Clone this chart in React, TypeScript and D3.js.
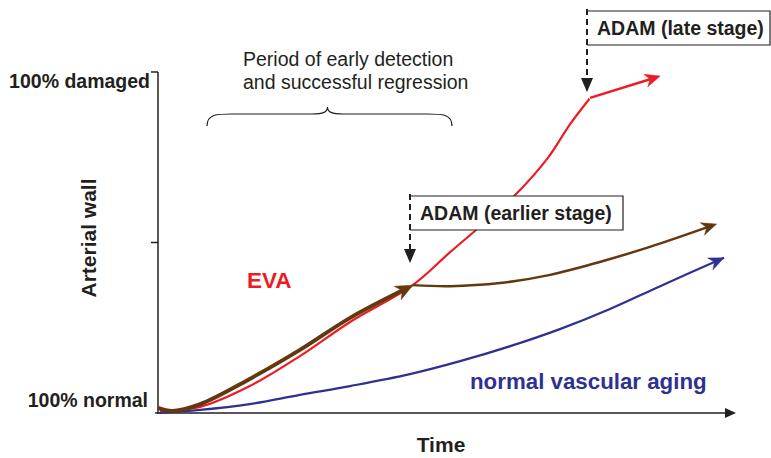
import React from "react";
import * as d3 from "d3";

const W = 771;
const H = 458;

// data units: time 0..100, arterial wall damage 0..100
const redEarly: [number, number][] = [
  [0.35, 0.6], [7.4, 1.8], [16.1, 7.9], [24.9, 16.7], [33.7, 26.7], [44.7, 37.5],
  [51.2, 47.1], [56.5, 54.7], [63.0, 64.5], [68.4, 74.8], [72.3, 84.7], [75.8, 92.4],
];
const redLate: [number, number][] = [[75.8, 92.4], [88.1, 98.8]];
const brownEarly: [number, number][] = [
  [0, 1.5], [2.5, 0.6], [7.4, 2.6], [16.1, 10.0], [24.9, 18.5], [33.7, 27.9], [44.7, 37.5],
];
const brownLate: [number, number][] = [
  [44.7, 37.5], [51.2, 37.2], [60, 38.1], [68.8, 40.5], [77.5, 44.3], [86.3, 48.7], [98.0, 55.4],
];
const blueNormal: [number, number][] = [
  [0, 0], [7.4, 0.9], [16.1, 2.6], [24.9, 5.3], [33.7, 7.9], [44.2, 11.4], [53, 15.2],
  [61.8, 19.6], [70.5, 24.6], [79.3, 30.5], [88.1, 37.2], [99.3, 45.5],
];
const yTickValues = [0, 50, 100];
const yTickLabels = ["100% normal", "", "100% damaged"];

const RED = "#ed1c24";
const BROWN = "#63380f";
const BLUE = "#2e3192";
const INK = "#231f20";
const FONT = "'Liberation Sans', Arial, Helvetica, sans-serif";

const x = d3.scaleLinear().domain([0, 100]).range([158, 728]);
const y = d3.scaleLinear().domain([0, 100]).range([413, 72]);

const line = d3
  .line<[number, number]>()
  .x((d) => x(d[0]))
  .y((d) => y(d[1]))
  .curve(d3.curveCatmullRom.alpha(0.5));

function arrowHead(pts: [number, number][], len: number, half: number, color: string) {
  const n = pts.length;
  const [x1, y1] = [x(pts[n - 2][0]), y(pts[n - 2][1])];
  const [x2, y2] = [x(pts[n - 1][0]), y(pts[n - 1][1])];
  const a = Math.atan2(y2 - y1, x2 - x1);
  const bx = x2 - len * Math.cos(a);
  const by = y2 - len * Math.sin(a);
  const nx = -Math.sin(a) * half;
  const ny = Math.cos(a) * half;
  const ix = x2 - len * 0.7 * Math.cos(a);
  const iy = y2 - len * 0.7 * Math.sin(a);
  const d = `M${x2},${y2}L${bx + nx},${by + ny}L${ix},${iy}L${bx - nx},${by - ny}Z`;
  return <path d={d} fill={color} stroke={color} strokeWidth={0.5} />;
}

function trimmed(pts: [number, number][], px: number): [number, number][] {
  const n = pts.length;
  const [x1, y1] = [x(pts[n - 2][0]), y(pts[n - 2][1])];
  const [x2, y2] = [x(pts[n - 1][0]), y(pts[n - 1][1])];
  const L = Math.hypot(x2 - x1, y2 - y1);
  const t = (L - px) / L;
  const nx = x.invert(x1 + (x2 - x1) * t);
  const ny = y.invert(y1 + (y2 - y1) * t);
  return [...pts.slice(0, n - 1), [nx, ny]];
}

function Brace({ x0, x1, yb, yt }: { x0: number; x1: number; yb: number; yt: number }) {
  const m = (x0 + x1) / 2 - 2;
  const ym = yb - 12;
  const d = `M${x0},${yb} C${x0},${ym} ${x0 + 10},${ym} ${x0 + 25},${ym} L${m - 16},${ym} C${m - 4},${ym} ${m},${ym - 2} ${m},${yt} C${m},${ym - 2} ${m + 4},${ym} ${m + 16},${ym} L${x1 - 25},${ym} C${x1 - 10},${ym} ${x1},${ym} ${x1},${yb}`;
  return <path d={d} fill="none" stroke={INK} strokeWidth={1.2} />;
}

function AdamBox({ left, top, right, bottom, label, tipY }: { left: number; top: number; right: number; bottom: number; label: string; tipY: number }) {
  return (
    <g>
      <path d={`M${left},${top}H${right}V${bottom}H${left}`} fill="#fff" stroke={INK} strokeWidth={1.2} />
      <line x1={left} y1={top - 2} x2={left} y2={tipY - 12} stroke={INK} strokeWidth={2} strokeDasharray="6,4" />
      <path d={`M${left - 6},${tipY - 14}L${left + 6},${tipY - 14}L${left},${tipY}Z`} fill={INK} />
      <text x={left + 10} y={(top + bottom) / 2 + 7} fontFamily={FONT} fontWeight="bold" fontSize={19.5} fill={INK}>
        {label}
      </text>
    </g>
  );
}

export default function App() {
  const x0 = x(0);
  const y0 = y(0);
  return (
    <svg width={W} height={H} style={{ position: "absolute", left: 0, top: 0, background: "#fff" }}>
      <rect width={W} height={H} fill="#fff" />
      {/* axes */}
      <line x1={x0} y1={y(100)} x2={x0} y2={y0 + 1} stroke={INK} strokeWidth={1.5} />
      <line x1={x0 - 3} y1={y0} x2={727} y2={y0} stroke={INK} strokeWidth={1.5} />
      <path d={`M736,${y0}L725,${y0 - 5}L725,${y0 + 5}Z`} fill={INK} />
      {yTickValues.map((v, i) => (
        <g key={v}>
          {v > 0 && <line x1={x0 - 7} y1={y(v)} x2={x0} y2={y(v)} stroke={INK} strokeWidth={1.5} />}
          {yTickLabels[i] && (
            <text
              x={v === 0 ? 148 : 150}
              y={v === 0 ? y(v) - 6 : y(v) + 16}
              textAnchor="end"
              fontFamily={FONT}
              fontWeight="bold"
              fontSize={19.5}
              fill={INK}
            >
              {yTickLabels[i]}
            </text>
          )}
        </g>
      ))}
      <text x={441} y={452} textAnchor="middle" fontFamily={FONT} fontWeight="bold" fontSize={21} fill={INK}>
        Time
      </text>
      <text
        transform={`translate(96,238) rotate(-90)`}
        textAnchor="middle"
        fontFamily={FONT}
        fontWeight="bold"
        fontSize={21}
        fill={INK}
      >
        Arterial wall
      </text>

      {/* period annotation */}
      <text x={243} y={66} fontFamily={FONT} fontSize={19.5} fill={INK}>
        Period of early detection
      </text>
      <text x={243} y={89} fontFamily={FONT} fontSize={19.5} fill={INK}>
        and successful regression
      </text>
      <Brace x0={207} x1={452} yb={126} yt={107} />

      {/* curves */}
      <path d={line(blueNormal) || ""} fill="none" stroke={BLUE} strokeWidth={2.2} />
      {arrowHead(blueNormal, 15, 6.5, BLUE)}
      <path d={line(trimmed(redEarly, 1)) || ""} fill="none" stroke={RED} strokeWidth={2.2} />
      <path d={line(trimmed(redLate, 8)) || ""} fill="none" stroke={RED} strokeWidth={2.5} />
      {arrowHead(redLate, 15, 6.5, RED)}
      <path d={line(trimmed(brownLate, 8)) || ""} fill="none" stroke={BROWN} strokeWidth={2.5} />
      {arrowHead(brownLate, 15, 6.5, BROWN)}
      <path d={line(trimmed(brownEarly, 8)) || ""} fill="none" stroke={BROWN} strokeWidth={4} />
      {arrowHead(brownEarly, 17, 7.5, BROWN)}

      {/* labels */}
      <text x={247} y={288} fontFamily={FONT} fontWeight="bold" fontSize={22.5} fill={RED}>
        EVA
      </text>
      <text x={470} y={389} fontFamily={FONT} fontWeight="bold" fontSize={22.3} fill={BLUE}>
        normal vascular aging
      </text>

      {/* ADAM boxes */}
      <AdamBox left={410} top={196} right={623} bottom={230} label="ADAM (earlier stage)" tipY={263} />
      <AdamBox left={587} top={11} right={770} bottom={45} label="ADAM (late stage)" tipY={92} />
    </svg>
  );
}
